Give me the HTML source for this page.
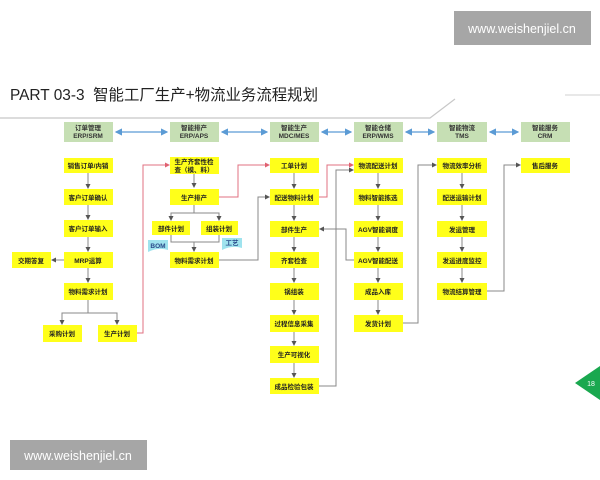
<!DOCTYPE html>
<html><head><meta charset="utf-8"><style>
html,body{margin:0;padding:0;background:#fff;width:600px;height:480px;overflow:hidden}
svg text{font-family:"Liberation Sans","Noto Sans CJK SC",sans-serif}
</style></head><body>
<svg width="600" height="480" viewBox="0 0 600 480" xmlns="http://www.w3.org/2000/svg">
<defs>
<marker id="ag" markerWidth="5" markerHeight="5" refX="4" refY="2.5" orient="auto"><path d="M0,0 L5,2.5 L0,5z" fill="#555"/></marker>
<marker id="ar" markerWidth="5" markerHeight="5" refX="4" refY="2.5" orient="auto"><path d="M0,0 L5,2.5 L0,5z" fill="#e06070"/></marker>
<marker id="ab" markerWidth="6" markerHeight="6" refX="5" refY="3" orient="auto"><path d="M0,0 L6,3 L0,6z" fill="#5b9bd5"/></marker>
<marker id="abs" markerWidth="6" markerHeight="6" refX="1" refY="3" orient="auto"><path d="M6,0 L0,3 L6,6z" fill="#5b9bd5"/></marker>
</defs>
<rect x="454" y="11" width="137" height="34" fill="#a6a6a6"/>
<text x="522" y="33" font-size="12.5" fill="#fff" text-anchor="middle">www.weishenjiel.cn</text>
<text x="10" y="100" font-size="15.5" fill="#222" textLength="308" lengthAdjust="spacingAndGlyphs">PART 03-3 &#160;智能工厂生产+物流业务流程规划</text>
<polyline points="0,118 430,118 455,99" fill="none" stroke="#c8c8c8" stroke-width="1.2"/>
<line x1="565" y1="95" x2="600" y2="95" stroke="#d0d0d0"/>
<rect x="10" y="440" width="137" height="30" fill="#a6a6a6"/>
<text x="78" y="460" font-size="12.5" fill="#fff" text-anchor="middle">www.weishenjiel.cn</text>
<polygon points="575,383 600,366 600,400" fill="#1aa84f"/>
<text x="591" y="386" font-size="7" fill="#fff" text-anchor="middle">18</text>

<g fill="#c6dfb4">
<rect x="64" y="122" width="49" height="20"/><rect x="170" y="122" width="49" height="20"/><rect x="270" y="122" width="49" height="20"/>
<rect x="354" y="122" width="49" height="20"/><rect x="437" y="122" width="50" height="20"/><rect x="521" y="122" width="49" height="20"/>
</g>
<g font-size="6.5" font-weight="bold" fill="#333" text-anchor="middle">
<text x="88" y="130">订单管理</text><text x="88" y="138">ERP/SRM</text>
<text x="194" y="130">智能排产</text><text x="194" y="138">ERP/APS</text>
<text x="294" y="130">智能生产</text><text x="294" y="138">MDC/MES</text>
<text x="378" y="130">智能仓储</text><text x="378" y="138">ERP/WMS</text>
<text x="462" y="130">智能物流</text><text x="462" y="138">TMS</text>
<text x="545" y="130">智能服务</text><text x="545" y="138">CRM</text>
</g>
<g stroke="#5b9bd5" stroke-width="1.2" marker-start="url(#abs)" marker-end="url(#ab)">
<line x1="116" y1="132" x2="167" y2="132"/><line x1="222" y1="132" x2="267" y2="132"/>
<line x1="322" y1="132" x2="351" y2="132"/><line x1="406" y1="132" x2="434" y2="132"/>
<line x1="490" y1="132" x2="518" y2="132"/>
</g>

<g fill="none" stroke="#888" stroke-width="1" marker-end="url(#ag)">
<line x1="88" y1="173" x2="88" y2="188"/><line x1="88" y1="205" x2="88" y2="219"/><line x1="88" y1="237" x2="88" y2="251"/><line x1="88" y1="268" x2="88" y2="282"/>
<polyline points="88,300 88,313 62,313 62,324"/><polyline points="88,313 117,313 117,324"/>
<line x1="64" y1="260" x2="52" y2="260"/>
<line x1="194" y1="174" x2="194" y2="187"/>
<polyline points="194,205 194,213 171,213 171,220"/><polyline points="194,213 219,213 219,220"/>
<polyline points="171,235 171,242 219,242 219,235" marker-end="none"/>
<line x1="194" y1="242" x2="194" y2="251"/>
<polyline points="219,260 258,260 258,197 269,197"/>
<polyline points="319,386 336,386 336,170 353,170"/>
<polyline points="354,260 346,260 346,229 320,229"/>
<polyline points="403,323 418,323 418,165 436,165"/>
<polyline points="487,291 504,291 504,165 520,165"/>
</g>
<g stroke="#888" marker-end="url(#ag)">
<line x1="294" y1="173" x2="294" y2="188"/><line x1="294" y1="205" x2="294" y2="220"/><line x1="294" y1="237" x2="294" y2="251"/><line x1="294" y1="268" x2="294" y2="282"/><line x1="294" y1="300" x2="294" y2="314"/><line x1="294" y1="332" x2="294" y2="345"/><line x1="294" y1="363" x2="294" y2="377"/>
<line x1="378" y1="173" x2="378" y2="188"/><line x1="378" y1="205" x2="378" y2="220"/><line x1="378" y1="237" x2="378" y2="251"/><line x1="378" y1="268" x2="378" y2="282"/><line x1="378" y1="300" x2="378" y2="314"/>
<line x1="462" y1="173" x2="462" y2="188"/><line x1="462" y1="205" x2="462" y2="220"/><line x1="462" y1="237" x2="462" y2="251"/><line x1="462" y1="268" x2="462" y2="282"/>
</g>
<g fill="none" stroke="#e07080" stroke-width="1" marker-end="url(#ar)">
<polyline points="137,333 143,333 143,165 169,165"/>
<polyline points="219,197 238,197 238,165 269,165"/>
<polyline points="319,197 327,197 327,165 353,165"/>
</g>

<g fill="#ffff1a">
<rect x="64" y="158" width="49" height="15"/><rect x="64" y="189" width="49" height="16"/><rect x="64" y="220" width="49" height="17"/><rect x="64" y="252" width="49" height="16"/><rect x="64" y="283" width="49" height="17"/>
<rect x="43" y="325" width="39" height="17"/><rect x="98" y="325" width="39" height="17"/><rect x="12" y="252" width="39" height="16"/>
<rect x="170" y="157" width="49" height="17"/><rect x="170" y="189" width="49" height="16"/><rect x="152" y="221" width="38" height="14"/><rect x="201" y="221" width="37" height="14"/><rect x="170" y="252" width="49" height="16"/>
<rect x="270" y="158" width="49" height="15"/><rect x="270" y="189" width="49" height="16"/><rect x="270" y="221" width="49" height="16"/><rect x="270" y="252" width="49" height="16"/><rect x="270" y="283" width="49" height="17"/><rect x="270" y="315" width="49" height="17"/><rect x="270" y="346" width="49" height="17"/><rect x="270" y="378" width="49" height="16"/>
<rect x="354" y="158" width="49" height="15"/><rect x="354" y="189" width="49" height="16"/><rect x="354" y="221" width="49" height="16"/><rect x="354" y="252" width="49" height="16"/><rect x="354" y="283" width="49" height="17"/><rect x="354" y="315" width="49" height="17"/>
<rect x="437" y="158" width="50" height="15"/><rect x="437" y="189" width="50" height="16"/><rect x="437" y="221" width="50" height="16"/><rect x="437" y="252" width="50" height="16"/><rect x="437" y="283" width="50" height="17"/>
<rect x="521" y="158" width="49" height="15"/>
</g>
<path d="M148,240 h20 v10 q-10,-3 -20,2z" fill="#9fe3ee"/>
<path d="M222,238 h20 v10 q-10,-3 -20,2z" fill="#9fe3ee"/>
<g font-size="6.5" font-weight="bold" fill="#222" text-anchor="middle">
<text x="158" y="248" fill="#2a4a8a">BOM</text><text x="232" y="245" fill="#2a4a8a">工艺</text>
<text x="88" y="168">销售订单/内销</text><text x="88" y="200">客户订单确认</text><text x="88" y="231">客户订单输入</text><text x="88" y="263">MRP运算</text><text x="88" y="294">物料需求计划</text>
<text x="62" y="336">采购计划</text><text x="117" y="336">生产计划</text><text x="31" y="263">交期答复</text>
<text x="194" y="164">生产齐套性检</text><text x="194" y="172">查（模、料）</text><text x="194" y="200">生产排产</text><text x="171" y="231">部件计划</text><text x="219" y="231">组装计划</text><text x="194" y="263">物料需求计划</text>
<text x="294" y="168">工单计划</text><text x="294" y="200">配送物料计划</text><text x="294" y="232">部件生产</text><text x="294" y="263">齐套检查</text><text x="294" y="294">锅组装</text><text x="294" y="326">过程信息采集</text><text x="294" y="357">生产可视化</text><text x="294" y="389">成品检验包装</text>
<text x="378" y="168">物流配送计划</text><text x="378" y="200">物料智能拣选</text><text x="378" y="232">AGV智能调度</text><text x="378" y="263">AGV智能配送</text><text x="378" y="294">成品入库</text><text x="378" y="326">发货计划</text>
<text x="462" y="168">物流效率分析</text><text x="462" y="200">配送运输计划</text><text x="462" y="232">发运管理</text><text x="462" y="263">发运进度监控</text><text x="462" y="294">物流结算管理</text>
<text x="545" y="168">售后服务</text>
</g>
</svg>
</body></html>
